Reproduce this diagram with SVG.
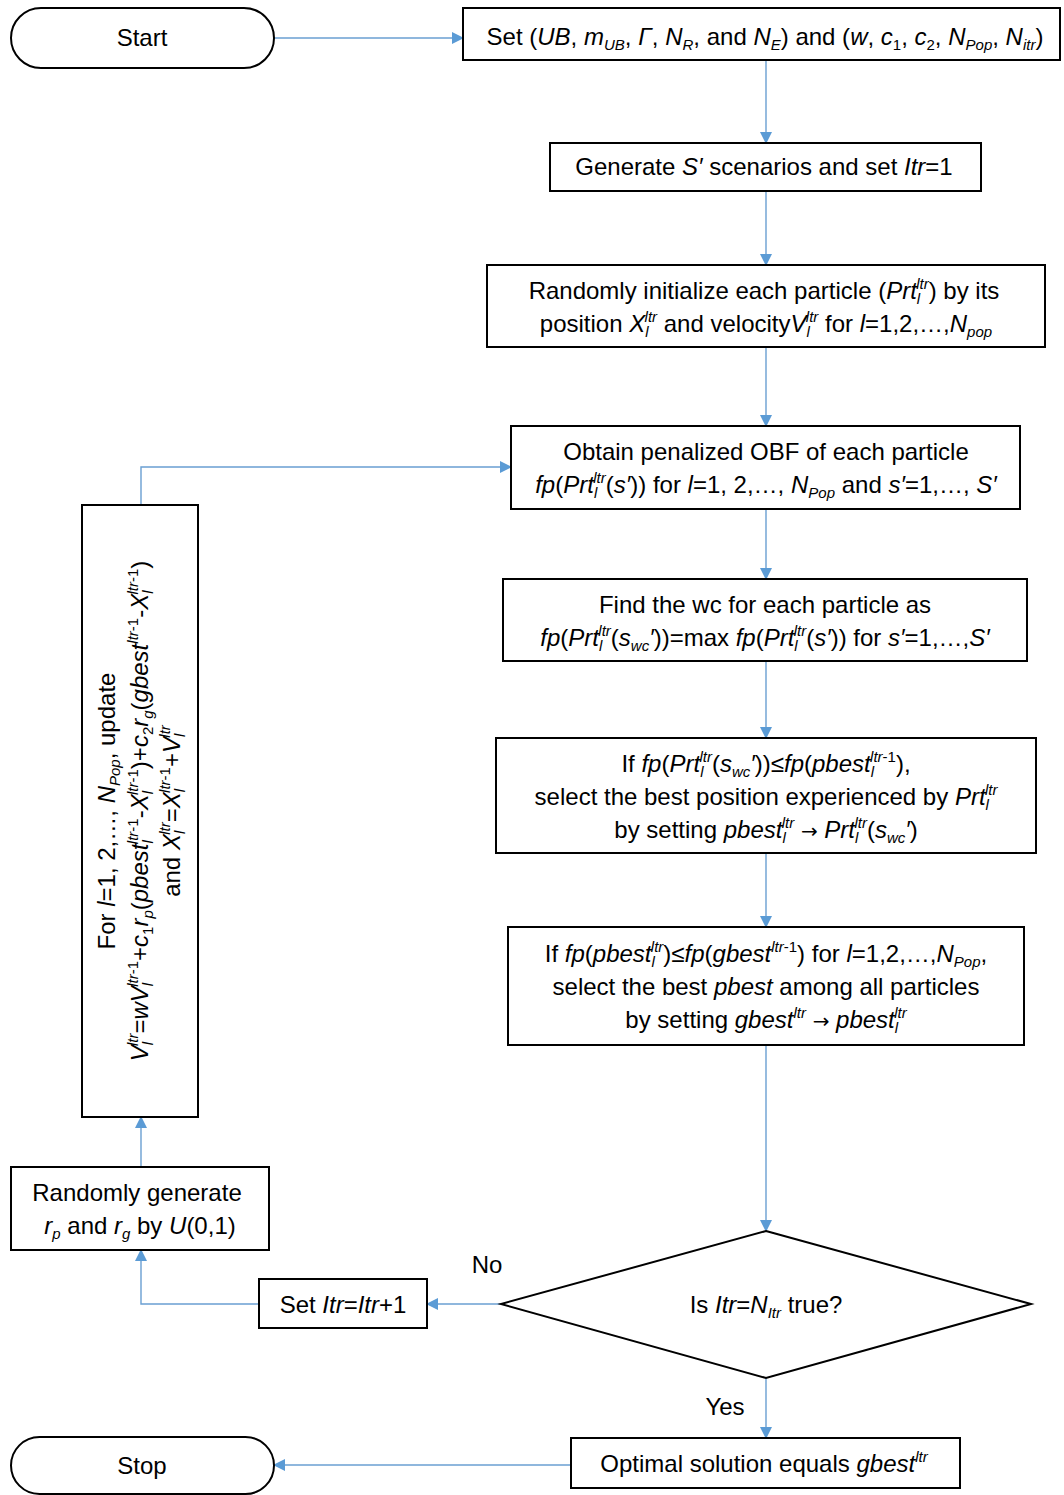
<svg xmlns="http://www.w3.org/2000/svg" width="1064" height="1495" viewBox="0 0 1064 1495">
<style>
.box{fill:#fff;stroke:#000;stroke-width:2}
.t{font-family:"Liberation Sans",Arial,sans-serif;font-size:24px;fill:#000}
.i{font-style:italic}
.s{font-size:15px}
.ar{font-family:"DejaVu Sans",sans-serif;font-size:20px}
.c{fill:none;stroke:#6a9fd2;stroke-width:1.4}
</style>
<defs>
<marker id="ah" markerWidth="12" markerHeight="12" refX="11" refY="6" orient="auto" markerUnits="userSpaceOnUse">
<path d="M0,0 L12,6 L0,12 Z" fill="#5b9bd5"/>
</marker>
</defs>
<rect width="1064" height="1495" fill="#fff"/>
<g id="connectors">
<path class="c" d="M274,38 H463" marker-end="url(#ah)"/>
<path class="c" d="M766,60 V143" marker-end="url(#ah)"/>
<path class="c" d="M766,191 V265" marker-end="url(#ah)"/>
<path class="c" d="M766,347 V426" marker-end="url(#ah)"/>
<path class="c" d="M766,509 V579" marker-end="url(#ah)"/>
<path class="c" d="M766,661 V738" marker-end="url(#ah)"/>
<path class="c" d="M766,853 V927" marker-end="url(#ah)"/>
<path class="c" d="M766,1045 V1231" marker-end="url(#ah)"/>
<path class="c" d="M766,1378 V1438" marker-end="url(#ah)"/>
<path class="c" d="M571,1465 H274" marker-end="url(#ah)"/>
<path class="c" d="M501,1304 H427" marker-end="url(#ah)"/>
<path class="c" d="M259,1304 H141 V1250" marker-end="url(#ah)"/>
<path class="c" d="M141,1167 V1117" marker-end="url(#ah)"/>
<path class="c" d="M141,505 V467 H511" marker-end="url(#ah)"/>
</g>
<g id="start">
<rect class="box" x="11" y="8" width="263" height="60" rx="30"/>
<text class="t" x="142" y="46" text-anchor="middle">Start</text>
</g>
<g id="set-params">
<rect class="box" x="463" y="8" width="597" height="52"/>
<text class="t" x="765" y="45" text-anchor="middle">Set (<tspan class="i">UB</tspan>, <tspan class="i">m</tspan><tspan class="i s" dy="5">UB</tspan><tspan dy="-5">, </tspan><tspan class="i">Γ</tspan>, <tspan class="i">N</tspan><tspan class="i s" dy="5">R</tspan><tspan dy="-5">, and </tspan><tspan class="i">N</tspan><tspan class="i s" dy="5">E</tspan><tspan dy="-5">) and (</tspan><tspan class="i">w</tspan>, <tspan class="i">c</tspan><tspan class="s" dy="5">1</tspan><tspan dy="-5">, </tspan><tspan class="i">c</tspan><tspan class="s" dy="5">2</tspan><tspan dy="-5">, </tspan><tspan class="i">N</tspan><tspan class="i s" dy="5">Pop</tspan><tspan dy="-5">, </tspan><tspan class="i">N</tspan><tspan class="i s" dy="5">itr</tspan><tspan dy="-5">)</tspan></text>
</g>
<g id="generate">
<rect class="box" x="550" y="143" width="431" height="48"/>
<text class="t" x="764" y="175" text-anchor="middle">Generate <tspan class="i">S′</tspan> scenarios and set <tspan class="i">Itr</tspan>=1</text>
</g>
<g id="init">
<rect class="box" x="487" y="265" width="558" height="82"/>
<text class="t" x="764" y="299" text-anchor="middle">Randomly initialize each particle (<tspan class="i">Prt</tspan><tspan class="i s" dy="5">l</tspan><tspan class="i s" dx="-4" dy="-15">ltr</tspan><tspan dy="10">) by its</tspan></text>
<text class="t" x="766" y="332" text-anchor="middle">position <tspan class="i">X</tspan><tspan class="i s" dy="5">l</tspan><tspan class="i s" dx="-4" dy="-15">ltr</tspan><tspan dy="10"> and velocity</tspan><tspan class="i">V</tspan><tspan class="i s" dy="5">l</tspan><tspan class="i s" dx="-4" dy="-15">ltr</tspan><tspan dy="10"> for </tspan><tspan class="i">l</tspan>=1,2,…,<tspan class="i">N</tspan><tspan class="i s" dy="5">pop</tspan></text>
</g>
<g id="obtain">
<rect class="box" x="511" y="426" width="509" height="83"/>
<text class="t" x="766" y="460" text-anchor="middle">Obtain penalized OBF of each particle</text>
<text class="t" x="766" y="493" text-anchor="middle"><tspan class="i">fp</tspan>(<tspan class="i">Prt</tspan><tspan class="i s" dy="5">l</tspan><tspan class="i s" dx="-4" dy="-15">ltr</tspan><tspan dy="10">(</tspan><tspan class="i">s′</tspan>)) for <tspan class="i">l</tspan>=1, 2,…, <tspan class="i">N</tspan><tspan class="i s" dy="5">Pop</tspan><tspan dy="-5"> and </tspan><tspan class="i">s′</tspan>=1,…, <tspan class="i">S′</tspan></text>
</g>
<g id="find-wc">
<rect class="box" x="503" y="579" width="524" height="82"/>
<text class="t" x="765" y="613" text-anchor="middle">Find the wc for each particle as</text>
<text class="t" x="765" y="646" text-anchor="middle"><tspan class="i">fp</tspan>(<tspan class="i">Prt</tspan><tspan class="i s" dy="5">l</tspan><tspan class="i s" dx="-4" dy="-15">ltr</tspan><tspan dy="10">(</tspan><tspan class="i">s</tspan><tspan class="i s" dy="5">wc</tspan><tspan class="i" dy="-5">′</tspan>))=max <tspan class="i">fp</tspan>(<tspan class="i">Prt</tspan><tspan class="i s" dy="5">l</tspan><tspan class="i s" dx="-4" dy="-15">ltr</tspan><tspan dy="10">(</tspan><tspan class="i">s′</tspan>)) for <tspan class="i">s′</tspan>=1,…,<tspan class="i">S′</tspan></text>
</g>
<g id="pbest">
<rect class="box" x="496" y="738" width="540" height="115"/>
<text class="t" x="766" y="772" text-anchor="middle">If <tspan class="i">fp</tspan>(<tspan class="i">Prt</tspan><tspan class="i s" dy="5">l</tspan><tspan class="i s" dx="-4" dy="-15">ltr</tspan><tspan dy="10">(</tspan><tspan class="i">s</tspan><tspan class="i s" dy="5">wc</tspan><tspan class="i" dy="-5">′</tspan>))≤<tspan class="i">fp</tspan>(<tspan class="i">pbest</tspan><tspan class="i s" dy="5">l</tspan><tspan class="i s" dx="-4" dy="-15">ltr</tspan><tspan class="s">-1</tspan><tspan dy="10">),</tspan></text>
<text class="t" x="766" y="805" text-anchor="middle">select the best position experienced by <tspan class="i">Prt</tspan><tspan class="i s" dy="5">l</tspan><tspan class="i s" dx="-4" dy="-15">ltr</tspan></text>
<text class="t" x="766" y="838" text-anchor="middle">by setting <tspan class="i">pbest</tspan><tspan class="i s" dy="5">l</tspan><tspan class="i s" dx="-4" dy="-15">ltr</tspan><tspan dy="10"> </tspan><tspan class="ar">→</tspan> <tspan class="i">Prt</tspan><tspan class="i s" dy="5">l</tspan><tspan class="i s" dx="-4" dy="-15">ltr</tspan><tspan dy="10">(</tspan><tspan class="i">s</tspan><tspan class="i s" dy="5">wc</tspan><tspan class="i" dy="-5">′</tspan>)</text>
</g>
<g id="gbest">
<rect class="box" x="508" y="927" width="516" height="118"/>
<text class="t" x="766" y="962" text-anchor="middle">If <tspan class="i">fp</tspan>(<tspan class="i">pbest</tspan><tspan class="i s" dy="5">l</tspan><tspan class="i s" dx="-4" dy="-15">ltr</tspan><tspan dy="10">)≤</tspan><tspan class="i">fp</tspan>(<tspan class="i">gbest</tspan><tspan class="i s" dy="-10">ltr</tspan><tspan class="s">-1</tspan><tspan dy="10">) for </tspan><tspan class="i">l</tspan>=1,2,…,<tspan class="i">N</tspan><tspan class="i s" dy="5">Pop</tspan><tspan dy="-5">,</tspan></text>
<text class="t" x="766" y="995" text-anchor="middle">select the best <tspan class="i">pbest</tspan> among all particles</text>
<text class="t" x="766" y="1028" text-anchor="middle">by setting <tspan class="i">gbest</tspan><tspan class="i s" dy="-10">ltr</tspan><tspan dy="10"> </tspan><tspan class="ar">→</tspan> <tspan class="i">pbest</tspan><tspan class="i s" dy="5">l</tspan><tspan class="i s" dx="-4" dy="-15">ltr</tspan></text>
</g>
<g id="decision">
<polygon class="box" points="766,1231 1031,1304 766,1378 501,1304"/>
<text class="t" x="766" y="1313" text-anchor="middle">Is <tspan class="i">Itr</tspan>=<tspan class="i">N</tspan><tspan class="i s" dy="5">Itr</tspan><tspan dy="-5"> true?</tspan></text>
</g>
<text class="t" x="487" y="1273" text-anchor="middle">No</text>
<text class="t" x="725" y="1415" text-anchor="middle">Yes</text>
<g id="optimal">
<rect class="box" x="571" y="1438" width="389" height="50"/>
<text class="t" x="764" y="1472" text-anchor="middle">Optimal solution equals <tspan class="i">gbest</tspan><tspan class="i s" dy="-10">ltr</tspan></text>
</g>
<g id="stop">
<rect class="box" x="11" y="1437" width="263" height="57" rx="28.5"/>
<text class="t" x="142" y="1474" text-anchor="middle">Stop</text>
</g>
<g id="set-itr">
<rect class="box" x="259" y="1279" width="168" height="49"/>
<text class="t" x="343" y="1313" text-anchor="middle">Set <tspan class="i">Itr</tspan>=<tspan class="i">Itr</tspan>+1</text>
</g>
<g id="rand-gen">
<rect class="box" x="11" y="1167" width="258" height="83"/>
<text class="t" x="137" y="1201" text-anchor="middle">Randomly generate</text>
<text class="t" x="140" y="1234" text-anchor="middle"><tspan class="i">r</tspan><tspan class="i s" dy="5">p</tspan><tspan dy="-5"> and </tspan><tspan class="i">r</tspan><tspan class="i s" dy="5">g</tspan><tspan dy="-5"> by </tspan><tspan class="i">U</tspan>(0,1)</text>
</g>
<g id="update">
<rect class="box" x="82" y="505" width="116" height="612"/>
<g transform="translate(141,811) rotate(-90)">
<text class="t" x="0" y="-26" text-anchor="middle">For <tspan class="i">l</tspan>=1, 2,…, <tspan class="i">N</tspan><tspan class="i s" dy="5">Pop</tspan><tspan dy="-5">, update</tspan></text>
<text class="t" x="0" y="7" text-anchor="middle"><tspan class="i">V</tspan><tspan class="i s" dy="5">l</tspan><tspan class="i s" dx="-4" dy="-15">ltr</tspan><tspan dy="10">=</tspan><tspan class="i">wV</tspan><tspan class="i s" dy="5">l</tspan><tspan class="i s" dx="-4" dy="-15">ltr</tspan><tspan class="s">-1</tspan><tspan dy="10">+</tspan><tspan class="i">c</tspan><tspan class="s" dy="5">1</tspan><tspan class="i" dy="-5">r</tspan><tspan class="i s" dy="5">p</tspan><tspan dy="-5">(</tspan><tspan class="i">pbest</tspan><tspan class="i s" dy="5">l</tspan><tspan class="i s" dx="-4" dy="-15">ltr</tspan><tspan class="s">-1</tspan><tspan dy="10">-</tspan><tspan class="i">X</tspan><tspan class="i s" dy="5">l</tspan><tspan class="i s" dx="-4" dy="-15">ltr</tspan><tspan class="s">-1</tspan><tspan dy="10">)+</tspan><tspan class="i">c</tspan><tspan class="s" dy="5">2</tspan><tspan class="i" dy="-5">r</tspan><tspan class="i s" dy="5">g</tspan><tspan dy="-5">(</tspan><tspan class="i">gbest</tspan><tspan class="i s" dy="-10">ltr</tspan><tspan class="s">-1</tspan><tspan dy="10">-</tspan><tspan class="i">X</tspan><tspan class="i s" dy="5">l</tspan><tspan class="i s" dx="-4" dy="-15">ltr</tspan><tspan class="s">-1</tspan><tspan dy="10">)</tspan></text>
<text class="t" x="0" y="39" text-anchor="middle">and <tspan class="i">X</tspan><tspan class="i s" dy="5">l</tspan><tspan class="i s" dx="-4" dy="-15">ltr</tspan><tspan dy="10">=</tspan><tspan class="i">X</tspan><tspan class="i s" dy="5">l</tspan><tspan class="i s" dx="-4" dy="-15">ltr</tspan><tspan class="s">-1</tspan><tspan dy="10">+</tspan><tspan class="i">V</tspan><tspan class="i s" dy="5">l</tspan><tspan class="i s" dx="-4" dy="-15">ltr</tspan></text>
</g>
</g>
</svg>
